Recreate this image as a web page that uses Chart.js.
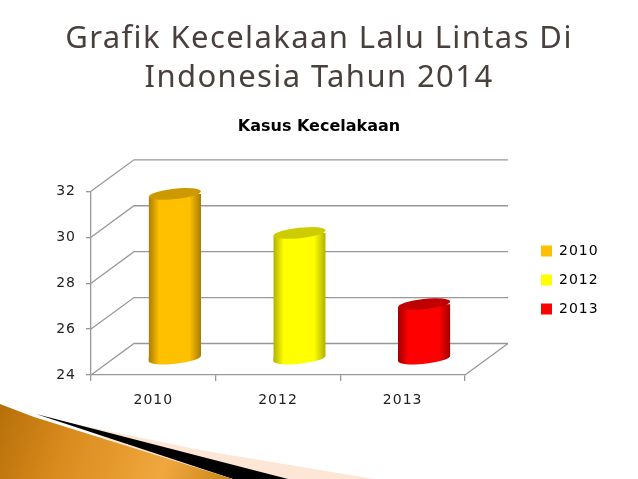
<!DOCTYPE html>
<html><head><meta charset="utf-8">
<style>html,body{margin:0;padding:0;background:#fff}#wrap{width:638px;height:479px;position:relative}</style>
<script src="https://cdn.jsdelivr.net/npm/chart.js@4"></script>
</head><body><div id="wrap"><canvas id="c" width="638" height="479"></canvas></div>
<script>
const categories = ['2010', '2012', '2013'];
const accidentCases = [31.2, 29.5, 26.4];
const chartTitle = ['Grafik Kecelakaan Lalu Lintas Di', 'Indonesia Tahun 2014'];
const chartSubtitle = 'Kasus Kecelakaan';
const axisMin = 24, axisMax = 32, axisStep = 2;

const barColors = ['#ffc000', '#ffff00', '#ff0000'];
const edgeColors = ['#a87c00', '#b0b000', '#a00000'];
const capColors = ['#cc9a00', '#cccc00', '#c00000'];
const depthX = 43, depthY = 31.5, gridColor = '#989898';
const tilt = -0.105, capRy = 5.2;

function withSpacing(obj, name, ctx, spacing) {
  const orig = obj[name];
  obj[name] = function () {
    const old = ctx.letterSpacing; ctx.letterSpacing = spacing;
    const r = orig.apply(this, arguments);
    ctx.letterSpacing = old; return r;
  };
}
function bodyGradient(ctx, left, width, i) {
  const g = ctx.createLinearGradient(left, 0, left + width, 0);
  g.addColorStop(0, edgeColors[i]);
  g.addColorStop(0.2, barColors[i]);
  g.addColorStop(0.78, barColors[i]);
  g.addColorStop(1, edgeColors[i]);
  return g;
}
function capPath(ctx, cx, cy, rx, ry) {
  ctx.beginPath();
  ctx.ellipse(cx, cy, rx, ry, tilt, 0, Math.PI * 2);
}

const scene = {
  id: 'scene',
  beforeLayout(chart) {
    const lg = chart.legend;
    if (lg && !lg._wrapped) {
      lg._wrapped = true;
      const fit = lg.fit;
      lg.fit = function () { fit.call(this); this.width = 173; };
      const ctx = chart.ctx;
      withSpacing(chart.titleBlock, 'draw', ctx, '1.4px');
      withSpacing(lg, 'draw', ctx, '1px');
    }
  },
  afterLayout(chart) {
    const lg = chart.legend;
    lg.left = 526; lg.right = 632; lg.top = 229; lg.bottom = 345;
    const ctx = chart.ctx;
    for (const s of [chart.scales.x, chart.scales.y]) {
      if (!s._wrapped) { s._wrapped = true; withSpacing(s, 'drawLabels', ctx, '1px'); }
    }
  },
  beforeDraw(chart) {
    const ctx = chart.ctx, H = chart.height;
    ctx.save();
    // slide decoration, bottom-left corner
    ctx.fillStyle = '#fde6d6';
    ctx.beginPath(); ctx.moveTo(70, 423); ctx.lineTo(200, 450); ctx.lineTo(374, H); ctx.lineTo(200, H); ctx.closePath(); ctx.fill();
    ctx.fillStyle = '#000';
    ctx.beginPath(); ctx.moveTo(36, 414); ctx.lineTo(288, H); ctx.lineTo(233, H); ctx.closePath(); ctx.fill();
    const g = ctx.createLinearGradient(0, 400, 233, H);
    g.addColorStop(0, '#b56f08'); g.addColorStop(0.3, '#d98a1c');
    g.addColorStop(0.72, '#f0a83e'); g.addColorStop(1, '#c98418');
    ctx.fillStyle = g;
    ctx.beginPath(); ctx.moveTo(0, 404); ctx.lineTo(34, 417); ctx.lineTo(233, H); ctx.lineTo(0, H); ctx.closePath(); ctx.fill();

    // 3D walls taken from the axes
    const y = chart.scales.y, a = chart.chartArea;
    ctx.strokeStyle = gridColor; ctx.lineWidth = 1.3;
    y.ticks.forEach(t => {
      const py = y.getPixelForValue(t.value);
      ctx.beginPath();
      ctx.moveTo(a.left, py);
      ctx.lineTo(a.left + depthX, py - depthY);
      ctx.lineTo(a.right + depthX, py - depthY);
      ctx.stroke();
    });
    const by = y.getPixelForValue(axisMin);
    ctx.beginPath(); ctx.moveTo(a.right, by); ctx.lineTo(a.right + depthX, by - depthY); ctx.stroke();
    ctx.restore();
  },
  beforeDatasetDraw(chart, args) {
    const ctx = chart.ctx, meta = args.meta;
    ctx.save();
    ctx.translate(depthX / 2, -depthY / 2);
    meta.data.forEach((b, i) => {
      const rx = b.width / 2, left = b.x - rx, d = rx * Math.tan(-tilt);
      ctx.fillStyle = bodyGradient(ctx, left, b.width, i);
      capPath(ctx, b.x, b.base, rx, capRy); ctx.fill();
      ctx.beginPath();
      ctx.moveTo(left, b.base - 1);
      ctx.lineTo(left, b.base + d);
      ctx.lineTo(left + 15, b.base + d);
      ctx.lineTo(left + 15, b.base - 1);
      ctx.closePath();
      ctx.fill();
    });
    ctx.beginPath();
    meta.data.forEach(b => {
      const rx = b.width / 2, d = rx * Math.tan(-tilt);
      ctx.moveTo(b.x - rx, b.y + d);
      ctx.lineTo(b.x + rx, b.y - d);
      ctx.lineTo(b.x + rx, b.base - d);
      ctx.lineTo(b.x - rx, b.base + d);
      ctx.closePath();
    });
    ctx.clip();
  },
  afterDatasetDraw(chart, args) {
    const ctx = chart.ctx, meta = args.meta;
    ctx.restore();
    ctx.save();
    ctx.translate(depthX / 2, -depthY / 2);
    meta.data.forEach((b, i) => {
      ctx.fillStyle = capColors[i];
      capPath(ctx, b.x, b.y, b.width / 2, capRy); ctx.fill();
    });
    ctx.restore();
  }
};

function barFill(context) {
  const chart = context.chart, i = context.dataIndex;
  const x = chart.scales.x;
  if (!chart.chartArea || i === undefined || !isFinite(x.getPixelForValue(i))) return barColors[i] || '#000';
  const cw = x.width / categories.length, w = cw * 0.42;
  return bodyGradient(chart.ctx, x.getPixelForValue(i) - w / 2, w, i);
}

new Chart(document.getElementById('c'), {
  type: 'bar',
  data: { labels: categories, datasets: [{
    label: chartSubtitle, data: accidentCases, backgroundColor: barFill, base: axisMin,
    barPercentage: 0.42, categoryPercentage: 1, borderWidth: 0, clip: false
  }] },
  plugins: [scene],
  options: {
    responsive: false, animation: false, devicePixelRatio: 1,
    layout: { padding: { left: 0, right: 0, top: 20, bottom: 69 } },
    plugins: {
      tooltip: { enabled: false },
      title: { display: true, text: chartTitle, color: '#493f3c',
        font: { family: '"Noto Sans"', size: 31, weight: 'normal', lineHeight: 1.26 }, padding: { top: 0, bottom: 19 } },
      subtitle: { display: true, text: chartSubtitle, color: '#000',
        font: { family: '"DejaVu Sans"', size: 16, weight: 'bold' }, padding: { top: 0, bottom: 55 } },
      legend: { display: true, position: 'right', align: 'start',
        labels: { boxWidth: 11, boxHeight: 11, padding: 15, color: '#222',
          font: { family: '"DejaVu Sans"', size: 14 },
          generateLabels: () => categories.map((c, i) => ({ text: c, fillStyle: barColors[i], strokeStyle: barColors[i], lineWidth: 0, index: i })) } }
    },
    scales: {
      x: { offset: true,
        grid: { display: true, drawOnChartArea: false, color: gridColor, lineWidth: 1.3, tickLength: 6 },
        border: { color: gridColor, width: 1.3 },
        ticks: { color: '#222', padding: 11, maxRotation: 0, font: { family: '"DejaVu Sans"', size: 14 } },
        afterFit: s => { s.height = 35; } },
      y: { min: axisMin, max: axisMax,
        grid: { display: true, drawOnChartArea: false, color: gridColor, lineWidth: 1.3, tickLength: 5 },
        border: { color: gridColor, width: 1.3 },
        ticks: { stepSize: axisStep, color: '#222', padding: 10, font: { family: '"DejaVu Sans"', size: 14 } },
        afterFit: s => { s.width = 91; } }
    }
  }
});
</script></body></html>
